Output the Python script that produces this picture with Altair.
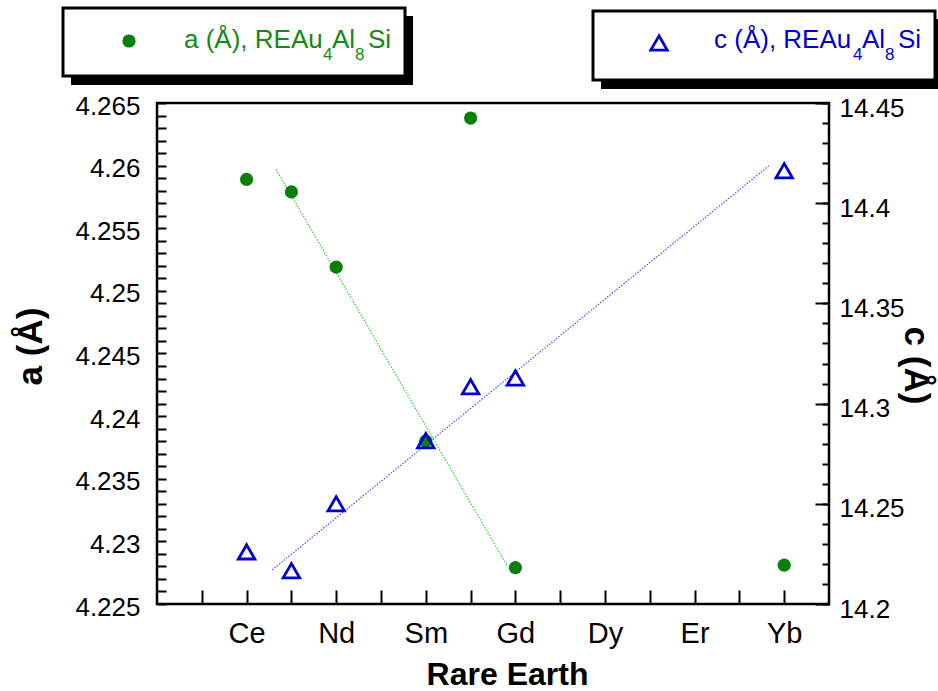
import altair as alt
import pandas as pd

# ---------------- data ----------------
elements = ["La", "Ce", "Pr", "Nd", "Pm", "Sm", "Eu", "Gd", "Tb", "Dy", "Ho", "Er", "Tm", "Yb"]
atomic_numbers = [57, 58, 59, 60, 61, 62, 63, 64, 65, 66, 67, 68, 69, 70]
labelled_numbers = [58, 60, 62, 64, 66, 68, 70]

point_elements = ["Ce", "Pr", "Nd", "Sm", "Eu", "Gd", "Yb"]
a_values = [4.2589, 4.2579, 4.2519, 4.2380, 4.2638, 4.2279, 4.2281]
c_values = [14.226, 14.2166, 14.250, 14.2815, 14.3084, 14.3128, 14.4162]

a_fit_z = [58.66, 63.81]
a_fit_values = [4.2597, 4.2281]
c_fit_z = [58.57, 69.67]
c_fit_values = [14.2170, 14.4189]

a_major = [4.225, 4.23, 4.235, 4.24, 4.245, 4.25, 4.255, 4.26, 4.265]
c_major = [14.2, 14.25, 14.3, 14.35, 14.4, 14.45]
a_minor = [round(4.225 + 0.001 * i, 3) for i in range(41)]
c_minor = [round(14.2 + 0.01 * i, 2) for i in range(26)]

legend_a = ["a (Å), REAu", "4", "Al", "8", "Si"]
legend_c = ["c (Å), REAu", "4", "Al", "8", "Si"]

# ---------------- setup ----------------
W, H = 672, 501
FONT = "Liberation Sans"
GREEN = "#0a800a"
GREEN_TXT = "#138a13"
GREEN_LINE = "#33cc33"
BLUE = "#0000cc"
BLUE_LINE = "#5050e8"
DOT_SIZE = 175
TRI_SIZE = 270

z_of = dict(zip(elements, atomic_numbers))
df = pd.DataFrame({
    "element": point_elements,
    "z": [z_of[e] for e in point_elements],
    "a": a_values,
    "c": c_values,
})
a_fit_df = pd.DataFrame({"z": a_fit_z, "a": a_fit_values})
c_fit_df = pd.DataFrame({"z": c_fit_z, "c": c_fit_values})

xscale = alt.Scale(domain=[56, 71], nice=False, zero=False)
ascale = alt.Scale(domain=[4.225, 4.265], nice=False, zero=False)
cscale = alt.Scale(domain=[14.2, 14.45], nice=False, zero=False)

names_js = "[" + ",".join("'" + e + "'" for e in elements) + "]"
x_label_expr = f"{names_js}[datum.value - {atomic_numbers[0]}]"

x_label_axis = alt.Axis(
    orient="bottom", values=labelled_numbers, labelExpr=x_label_expr,
    ticks=False, domain=False, grid=False, labelFlush=False, labelOverlap=False,
    labelFont=FONT, labelFontSize=29, labelColor="black", labelPadding=29,
    labelBaseline="middle",
    title="Rare Earth", titleFont=FONT, titleFontSize=32, titleFontWeight="bold",
    titleColor="black", titleX=350, titleY=70, titleAnchor="middle",
    titleBaseline="middle", titleAlign="center",
)
x_tick_axis = alt.Axis(
    orient="top", offset=-H, values=atomic_numbers, labels=False, domain=False,
    grid=False, ticks=True, tickSize=14, tickWidth=2, tickColor="black", title=None,
)
a_label_axis = alt.Axis(
    orient="left", values=a_major, format="~g", ticks=False, domain=False, grid=False,
    labelFont=FONT, labelFontSize=26, labelColor="black", labelPadding=17,
    labelOverlap=False, labelFlush=False, labelBaseline="middle", labelOffset=3,
    title="a (Å)", titleFont=FONT, titleFontSize=35, titleFontWeight="bold",
    titleColor="black", titleAngle=270, titleX=-127, titleY=243,
    titleAlign="center", titleBaseline="middle",
)
a_tick_axis = alt.Axis(
    orient="right", offset=-W, values=a_minor, labels=False, domain=False, grid=False,
    ticks=True, tickSize=9, tickWidth=2, tickColor="black", title=None,
)
c_label_axis = alt.Axis(
    orient="right", values=c_major, format="~g", ticks=False, domain=False, grid=False,
    labelFont=FONT, labelFontSize=26, labelColor="black", labelPadding=10,
    labelOverlap=False, labelFlush=False, labelBaseline="middle", labelOffset=5,
    title="c (Å)", titleFont=FONT, titleFontSize=35, titleFontWeight="bold",
    titleColor="black", titleAngle=90, titleX=86, titleY=262,
    titleAlign="center", titleBaseline="middle",
)
c_minor_axis = alt.Axis(
    orient="left", offset=-W, values=c_minor, labels=False, domain=False, grid=False,
    ticks=True, tickSize=7, tickWidth=2, tickColor="black", title=None,
)
c_major_axis = alt.Axis(
    orient="left", offset=-W, values=c_major, labels=False, domain=False, grid=False,
    ticks=True, tickSize=14, tickWidth=2, tickColor="black", title=None,
)

# ---------------- data layers ----------------
a_line = alt.Chart(a_fit_df).mark_line(
    color=GREEN_LINE, strokeWidth=1.2, strokeDash=[1.5, 1.5]
).encode(
    x=alt.X("z:Q", scale=xscale, axis=None),
    y=alt.Y("a:Q", scale=ascale, axis=a_tick_axis),
)
c_line = alt.Chart(c_fit_df).mark_line(
    color=BLUE_LINE, strokeWidth=1.2, strokeDash=[1.5, 1.5]
).encode(
    x=alt.X("z:Q", scale=xscale, axis=None),
    y=alt.Y("c:Q", scale=cscale, axis=c_minor_axis),
)
c_ticks_layer = alt.Chart(df).mark_point(opacity=0).encode(
    x=alt.X("z:Q", scale=xscale, axis=x_tick_axis),
    y=alt.Y("c:Q", scale=cscale, axis=c_major_axis),
)
a_points = alt.Chart(df).mark_point(
    shape="circle", filled=True, size=DOT_SIZE, color=GREEN, opacity=1
).encode(
    x=alt.X("z:Q", scale=xscale, axis=x_label_axis),
    y=alt.Y("a:Q", scale=ascale, axis=a_label_axis),
)
c_points = alt.Chart(df).mark_point(
    shape="triangle-up", filled=False, size=TRI_SIZE, color=BLUE, strokeWidth=2.8, opacity=1
).encode(
    x=alt.X("z:Q", scale=xscale, axis=None),
    y=alt.Y("c:Q", scale=cscale, axis=c_label_axis),
)

# ---------------- legend boxes ----------------
one = alt.Data(values=[{"k": 1}])


def box(x0, x1, y0, y1):
    shadow = alt.Chart(one).mark_rect(color="black").encode(
        x=alt.value(x0 + 8), x2=alt.value(x1 + 8), y=alt.value(y0 + 8), y2=alt.value(y1 + 9)
    )
    frame = alt.Chart(one).mark_rect(fill="white", stroke="black", strokeWidth=3).encode(
        x=alt.value(x0), x2=alt.value(x1), y=alt.value(y0), y2=alt.value(y1)
    )
    return [shadow, frame]


def legend_text(parts, x_starts, color):
    layers = []
    for i, (txt, xs) in enumerate(zip(parts, x_starts)):
        sub = i in (1, 3)
        layers.append(
            alt.Chart(one).mark_text(
                text=txt, font=FONT, fontSize=17 if sub else 26, color=color,
                align="left", baseline="alphabetic",
            ).encode(x=alt.value(xs), y=alt.value(-43 if sub else -55))
        )
    return layers


leg1 = box(-94, 248, -95, -27)
leg1.append(alt.Chart(one).mark_point(shape="circle", filled=True, size=DOT_SIZE, color=GREEN, opacity=1)
            .encode(x=alt.value(-28), y=alt.value(-62)))
leg1 += legend_text(legend_a, [27, 166, 175, 198, 211], GREEN_TXT)

leg2 = box(436, 778, -92, -23)
leg2.append(alt.Chart(one).mark_point(shape="triangle-up", filled=False, size=TRI_SIZE, color=BLUE,
                                      strokeWidth=2.8, opacity=1)
            .encode(x=alt.value(502), y=alt.value(-60)))
leg2 += legend_text(legend_c, [557, 696, 705, 728, 741], BLUE)

chart = alt.layer(
    a_line, c_line, c_ticks_layer, a_points, c_points, *leg1, *leg2
).resolve_scale(
    y="independent", x="shared"
).resolve_axis(
    y="independent", x="independent"
).properties(
    width=W, height=H,
    autosize=alt.AutoSizeParams(type="none"),
    padding={"left": 157, "top": 103, "right": 109, "bottom": 87},
    background="white",
).configure_view(
    stroke="black", strokeWidth=2.5
)

chart.save("out.html", embed_options={"renderer": "svg", "actions": False})
